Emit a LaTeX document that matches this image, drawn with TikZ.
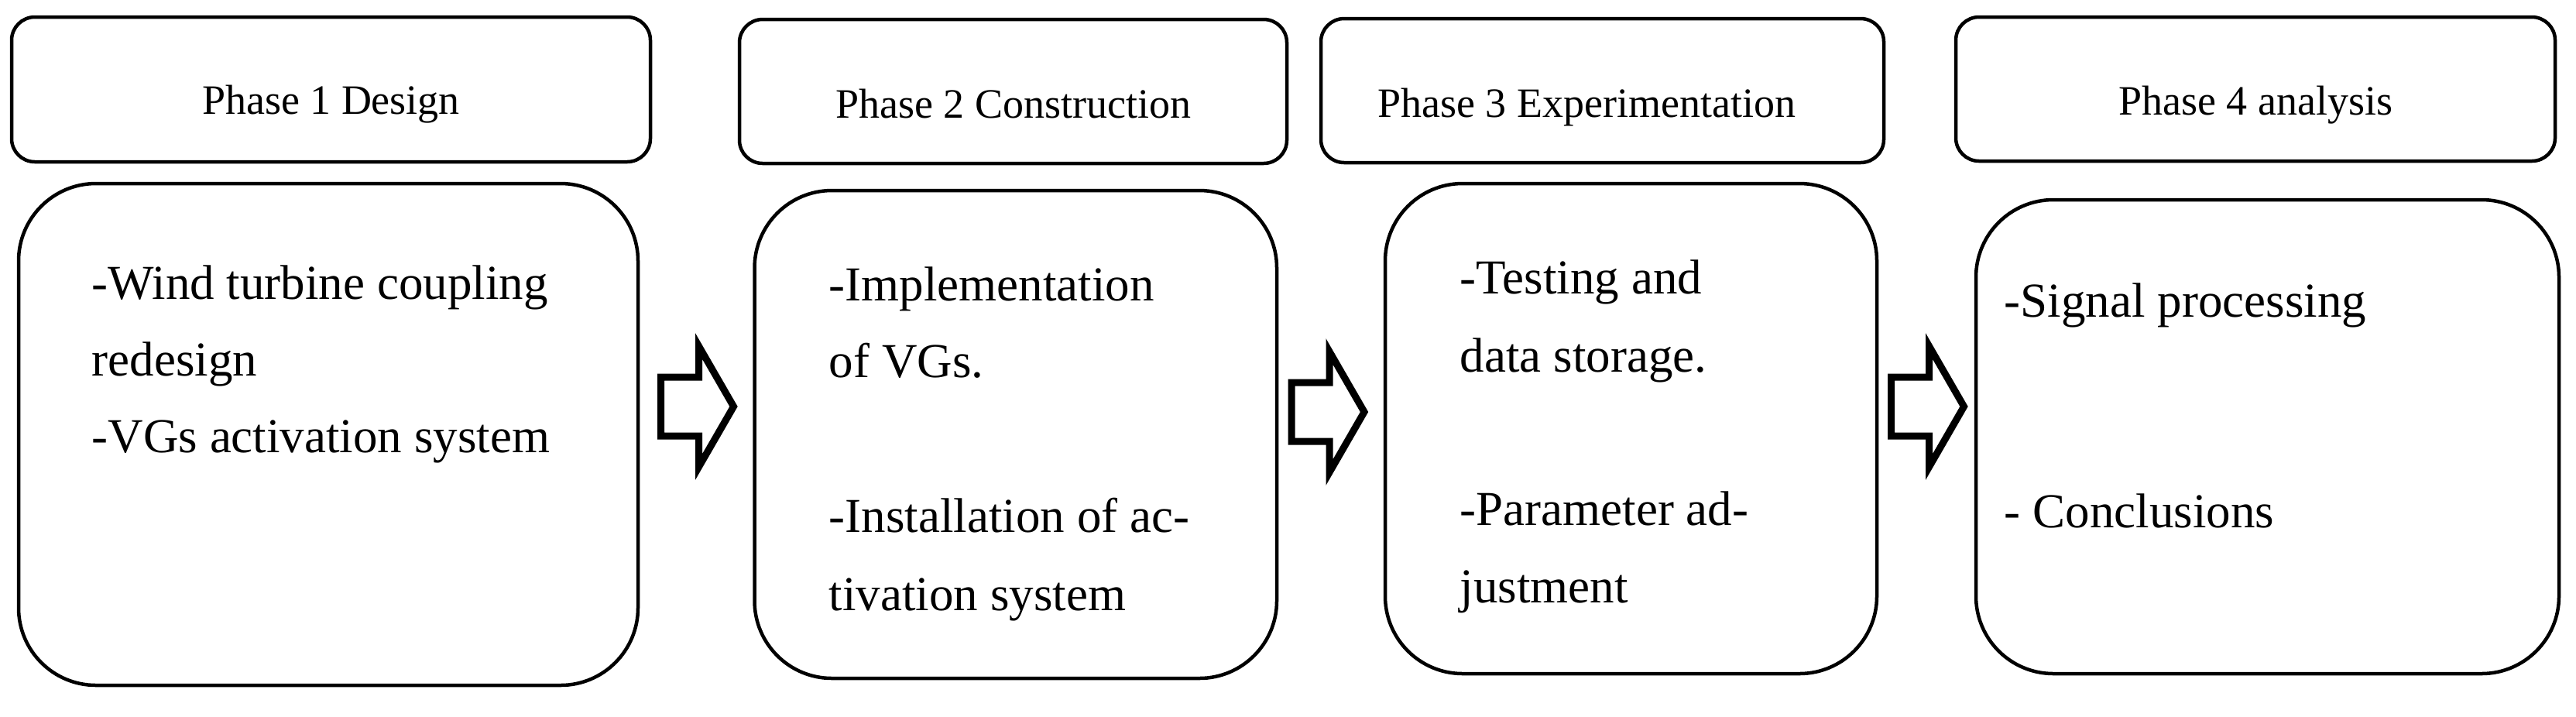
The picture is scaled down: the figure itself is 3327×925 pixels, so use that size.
\documentclass[tikz,border=0pt]{standalone}
\usepackage{fontspec}
\setmainfont{Liberation Serif}
\begin{document}
\begin{tikzpicture}[x=0.25pt,y=-0.25pt,
  hdr/.style={draw, line width=1.125pt, rounded corners=7.5pt, inner sep=0pt, outer sep=0pt, minimum height=46.5pt},
  bodybox/.style={draw, line width=1.125pt, rounded corners=25pt, inner sep=0pt, outer sep=0pt},
  htext/.style={anchor=base, inner sep=0pt, font=\fontsize{13.5}{16}\selectfont},
  btext/.style={anchor=base west, inner sep=0pt, font=\fontsize{15.75}{19}\selectfont},
  pics/blockarrow/.style={code={
    \draw[line width=2.25pt, line join=miter, miter limit=10]
      (0,-38) -- (49,-38) -- (49,-78) -- (94,0) -- (49,78) -- (49,38) -- (0,38) -- cycle;}}]
\useasboundingbox (0,0) rectangle (3327,925);

% header boxes
\node[hdr, minimum width=206.25pt, minimum height=46.75pt] (h1) at (427.5,115.5) {};
\node[hdr, minimum width=176.75pt] (h2) at (1308.5,118) {};
\node[hdr, minimum width=181.75pt] (h3) at (2069.5,117) {};
\node[hdr, minimum width=193.5pt] (h4) at (2913,115) {};

\node[htext] (h1t) at (427.5,147.5) {Phase 1 Design};
\node[htext] (h2t) at (1308.5,152) {Phase 2 Construction};
\node[htext] (h3t) at (2049,151) {Phase 3 Experimentation};
\node[htext] (h4t) at (2913,148) {Phase 4 analysis};

% body boxes
\node[bodybox, minimum width=200pt, minimum height=162pt] (b1) at (424,561) {};
\node[bodybox, minimum width=168.625pt, minimum height=157.5pt] (b2) at (1311.75,561) {};
\node[bodybox, minimum width=158.75pt, minimum height=158.25pt] (b3) at (2106.5,553.5) {};
\node[bodybox, minimum width=188.25pt, minimum height=153pt] (b4) at (2928.5,564) {};

% body texts
\node[btext] (b1l1) at (118,386) {-Wind turbine coupling};
\node[btext] (b1l2) at (118,485) {redesign};
\node[btext] (b1l3) at (118,584) {-VGs activation system};

\node[btext] (b2l1) at (1070,388) {-Implementation};
\node[btext] (b2l2) at (1070,487) {of VGs.};
\node[btext] (b2l3) at (1070,687) {-Installation of ac-};
\node[btext] (b2l4) at (1070,788) {tivation system};

\node[btext] (b3l1) at (1885,379) {-Testing and};
\node[btext] (b3l2) at (1885,480) {data storage.};
\node[btext] (b3l3) at (1885,678.5) {-Parameter ad-};
\node[btext] (b3l4) at (1885,778) {justment};

\node[btext] (b4l1) at (2588,409) {-Signal processing};
\node[btext] (b4l2) at (2588,681) {- Conclusions};

% block arrows
\pic (a1) at (853.5,525) {blockarrow};
\pic (a2) at (1668,532) {blockarrow};
\pic (a3) at (2442.5,525) {blockarrow};
\end{tikzpicture}
\end{document}
